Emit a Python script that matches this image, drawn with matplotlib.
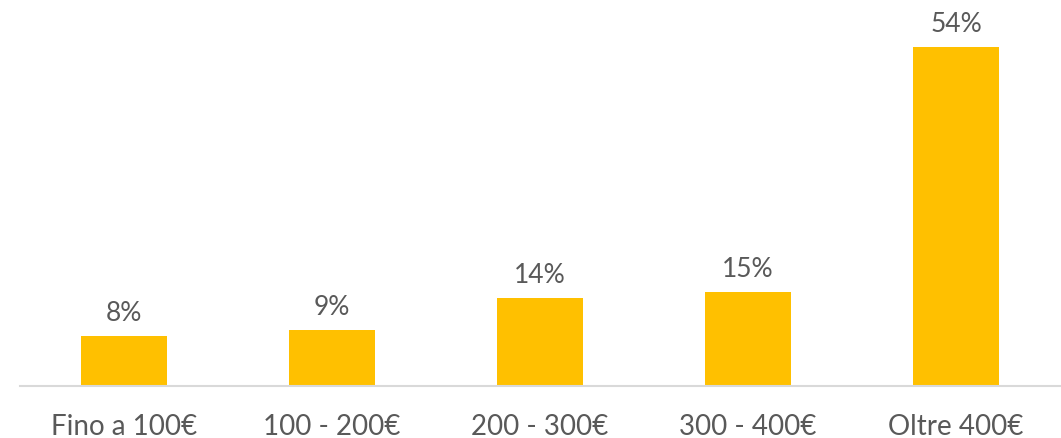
import matplotlib
matplotlib.use("Agg")
import matplotlib.pyplot as plt
import numpy as np

categories = ["Fino a 100€", "100 - 200€", "200 - 300€", "300 - 400€", "Oltre 400€"]
values = [8, 9, 14, 15, 54]
labels = ["8%", "9%", "14%", "15%", "54%"]

plt.rcParams['font.family'] = ['Lato', 'DejaVu Sans']
text_color = "#595959"

fig = plt.figure(figsize=(10.61, 4.38), dpi=100)
ax = fig.add_axes([20 / 1061, 52 / 438, 1040 / 1061, 386 / 438])

x = np.arange(len(categories))
bars = ax.bar(x, values, 0.41, color="#FFC000", zorder=2)

for b, lab in zip(bars, labels):
    ax.annotate(lab, (b.get_x() + b.get_width() / 2, b.get_height()),
                xytext=(0, 7), textcoords="offset points",
                ha="center", va="bottom", fontsize=19, color=text_color)

ax.set_xlim(-0.5, len(categories) - 0.5)
ax.set_ylim(0, 61.5)
ax.set_xticks(x)
ax.set_xticklabels(categories, fontsize=20, color=text_color)
ax.tick_params(axis="x", length=0, pad=20)
ax.set_yticks([])
for side in ["top", "right", "left"]:
    ax.spines[side].set_visible(False)
ax.spines["bottom"].set_color("#D9D9D9")
ax.spines["bottom"].set_linewidth(1.5)

fig.savefig("out.png", dpi=100)
